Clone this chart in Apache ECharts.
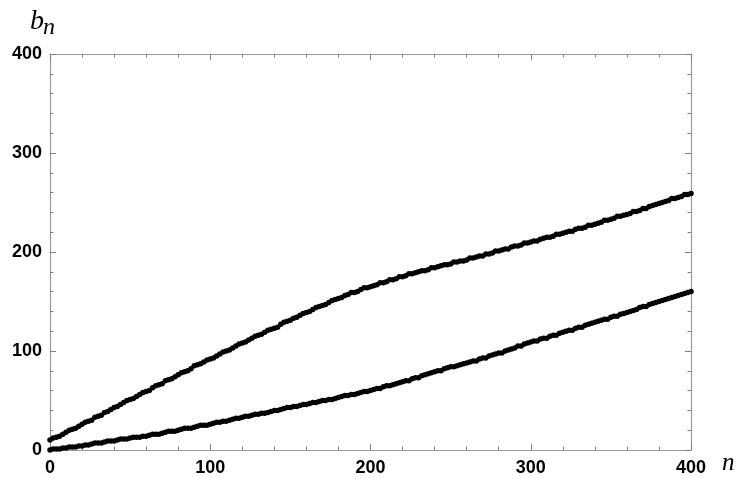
<!DOCTYPE html>
<html>
<head>
<meta charset="utf-8">
<script src="https://cdn.jsdelivr.net/npm/echarts@6/dist/echarts.min.js"></script>
<style>html,body{margin:0;padding:0;background:#fff}#c{width:743px;height:479px}</style>
</head>
<body>
<div id="c"></div>
<script>
const nValues = [0,2,4,6,8,10,12,14,16,18,20,22,24,26,28,30,32,34,36,38,40,42,44,46,48,50,52,54,56,58,60,62,64,66,68,70,72,74,76,78,80,82,84,86,88,90,92,94,96,98,100,102,104,106,108,110,112,114,116,118,120,122,124,126,128,130,132,134,136,138,140,142,144,146,148,150,152,154,156,158,160,162,164,166,168,170,172,174,176,178,180,182,184,186,188,190,192,194,196,198,200,202,204,206,208,210,212,214,216,218,220,222,224,226,228,230,232,234,236,238,240,242,244,246,248,250,252,254,256,258,260,262,264,266,268,270,272,274,276,278,280,282,284,286,288,290,292,294,296,298,300,302,304,306,308,310,312,314,316,318,320,322,324,326,328,330,332,334,336,338,340,342,344,346,348,350,352,354,356,358,360,362,364,366,368,370,372,374,376,378,380,382,384,386,388,390,392,394,396,398,400];

const upperValues = [
10,12,13,14,16,18,20,21,22,24,
26,28,29,30,33,34,35,38,39,41,
43,44,46,48,50,51,52,54,56,58,
59,60,63,65,66,67,70,71,72,74,
76,78,79,80,82,85,86,87,89,91,
92,93,95,97,99,100,101,103,105,107,
108,109,111,113,115,116,117,119,121,122,
123,124,127,129,130,131,133,134,136,138,
139,140,142,144,145,146,147,149,151,152,
153,154,156,157,159,159,160,162,164,164,
165,166,167,169,169,170,172,172,173,175,
175,176,178,178,179,180,181,181,182,184,
184,185,186,187,187,188,190,190,191,191,
192,194,194,195,196,196,198,198,199,201,
201,202,203,203,205,206,206,207,209,209,
210,211,211,213,214,215,215,216,218,218,
219,220,221,221,223,224,224,225,227,227,
228,229,230,232,232,233,234,236,236,237,
238,239,241,241,242,244,244,246,247,248,
249,250,251,252,254,254,255,256,258,258,259
];

const lowerValues = [
0,1,1,1,2,2,3,3,3,4,
4,5,5,6,7,7,7,8,9,9,
9,10,11,11,11,12,13,13,13,14,
14,15,16,16,16,17,18,19,19,19,
20,21,22,22,22,23,24,25,25,25,
26,27,28,28,29,29,30,31,32,32,
33,34,34,35,36,36,37,37,38,39,
40,40,41,42,43,43,44,44,45,46,
46,47,48,48,49,50,50,51,51,52,
53,54,55,55,56,56,57,58,59,59,
60,61,62,62,64,65,65,66,67,68,
69,70,70,72,73,73,75,76,77,78,
79,80,80,82,83,84,84,85,86,87,
88,89,90,90,92,93,93,95,96,97,
98,98,100,101,102,103,105,105,107,108,
109,110,110,112,113,113,115,116,116,118,
119,120,121,121,123,124,124,126,127,128,
129,130,131,132,132,134,135,135,137,138,
139,140,141,142,144,145,145,147,148,149,
150,151,152,153,154,155,156,157,158,159,160
];

const xTicks = {min: 0, max: 400, interval: 100};
const yTicks = {min: 0, max: 400, interval: 100};
const yLabel = ['b', 'n'];
const xLabel = 'n';

const chart = echarts.init(document.getElementById('c'), null, {renderer: 'canvas'});

const lineCol = '#9a9a9a';
const tickCol = '#808080';
const labelFont = {fontFamily: 'Liberation Sans', fontWeight: 'bold', fontSize: 18, color: '#000'};

function mkAxis(type, pos, showLabel, ticks) {
  return {
    type: 'value', position: pos, min: ticks.min, max: ticks.max, interval: ticks.interval,
    axisLine: {show: true, onZero: false, lineStyle: {color: lineCol, width: 1.2}},
    axisTick: {show: true, inside: true, length: 6, lineStyle: {color: tickCol, width: 1}},
    minorTick: {show: true, splitNumber: 5, length: 3.5, lineStyle: {color: tickCol, width: 1}},
    splitLine: {show: false},
    axisLabel: Object.assign({show: showLabel, margin: type === 'x' ? 9 : 8}, labelFont)
  };
}

const symbol = {symbol: 'circle', symbolSize: 5.5, itemStyle: {color: '#000', opacity: 1}};

chart.setOption({
  animation: false,
  backgroundColor: '#fff',
  grid: {left: 50, right: 52, top: 54, bottom: 29, containLabel: false},
  xAxis: [mkAxis('x', 'bottom', true, xTicks), mkAxis('x', 'top', false, xTicks)],
  yAxis: [mkAxis('y', 'left', true, yTicks), mkAxis('y', 'right', false, yTicks)],
  series: [
    Object.assign({type: 'scatter', data: nValues.map((n, i) => [n, upperValues[i]])}, symbol),
    Object.assign({type: 'scatter', data: nValues.map((n, i) => [n, lowerValues[i]])}, symbol)
  ],
  graphic: [
    {type: 'text', x: 30, y: 22, style: {text: yLabel[0], font: 'italic 28px "Liberation Serif"', fill: '#000', verticalAlign: 'middle'}},
    {type: 'text', x: 43, y: 28, style: {text: yLabel[1], font: 'italic 24px "Liberation Serif"', fill: '#000', verticalAlign: 'middle'}},
    {type: 'text', x: 722, y: 463, style: {text: xLabel, font: 'italic 25px "Liberation Serif"', fill: '#000', verticalAlign: 'middle'}}
  ]
});
</script>
</body>
</html>
